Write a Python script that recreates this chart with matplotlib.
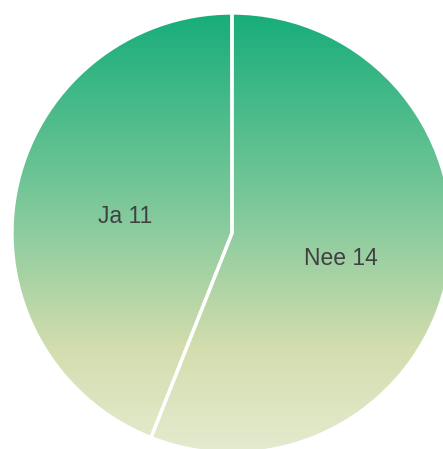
import numpy as np
import matplotlib
matplotlib.use("Agg")
import matplotlib.pyplot as plt
from matplotlib.colors import LinearSegmentedColormap

# data
labels = ["Nee", "Ja"]
values = [14, 11]

W, H = 443, 449
cx, cy, r = 232, 449 - 233, 220

fig = plt.figure(figsize=(W / 100, H / 100), dpi=100)
ax = fig.add_axes([0, 0, 1, 1])

texts_in = [f"{l} {v}" for l, v in zip(labels, values)]
wedges, texts = ax.pie(values, labels=texts_in, center=(cx, cy), radius=r,
                       startangle=90, counterclock=False, labeldistance=0.5,
                       wedgeprops=dict(edgecolor="white", linewidth=2.4, facecolor="none"),
                       textprops=dict(fontsize=16.5, color="#404040", family="Liberation Sans"))
for t in texts:
    t.set_ha("center")
    t.set_va("center")
    x, y = t.get_position()
    t.set_position((x + 1, y - 4.5))

# vertical gradient, clipped to each wedge
cmap = LinearSegmentedColormap.from_list("g", [(0, "#17ad7a"), (0.45, "#80c99b"),
                                               (0.76, "#d3ddae"), (1, "#e4ebcf")])
grad = np.linspace(0, 1, 256).reshape(-1, 1)
for w in wedges:
    im = ax.imshow(grad, cmap=cmap, extent=(cx - r, cx + r, cy - r, cy + r),
                   origin="upper", aspect="auto", zorder=0.5)
    im.set_clip_path(w)
    w.set_zorder(1)

ax.set_xlim(0, W)
ax.set_ylim(0, H)
ax.set_aspect("auto")
ax.axis("off")
fig.savefig("out.png", dpi=100)
